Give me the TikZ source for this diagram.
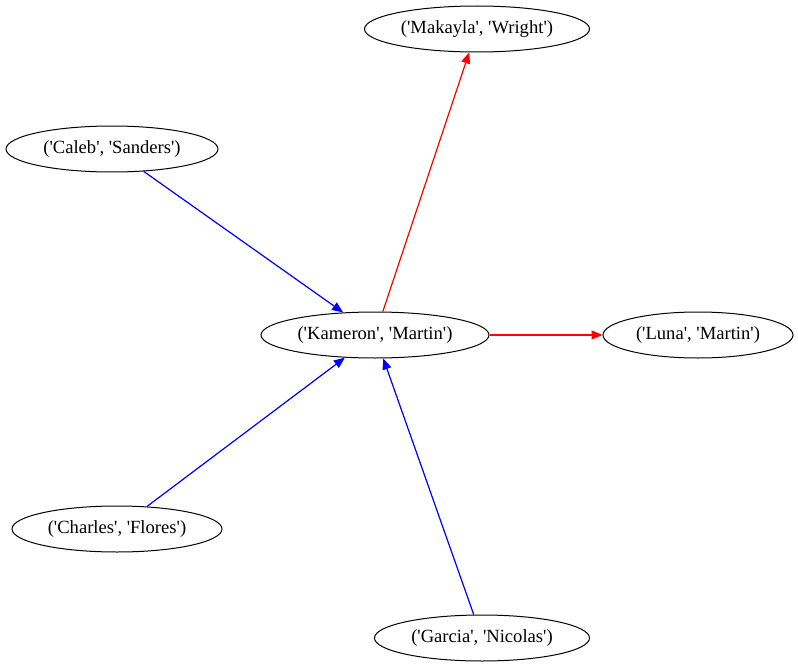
\documentclass[tikz,border=0pt]{standalone}
\usepackage{fontspec}
\setmainfont{Liberation Serif}[Ligatures=TeXOff]
\usetikzlibrary{arrows.meta,shapes.geometric}
\begin{document}
\begin{tikzpicture}[x=1pt,y=-1pt,
  person/.style={draw,line width=1pt,ellipse,minimum width=#1,minimum height=46pt,inner sep=0pt,font=\fontsize{18.6}{21}\selectfont},
  person/.default=212pt,
  link/.style={-{Triangle[length=11pt,width=9pt]},line width=1.2pt},
  toward/.style={link,draw=red,fill=red},
  from/.style={link,draw=blue,fill=blue}]
  \useasboundingbox (0,0) rectangle (798,669);
  \node[person=225pt] (makayla) at (477,29) {('Makayla', 'Wright')};
  \node[person=212pt] (caleb) at (112,149) {('Caleb', 'Sanders')};
  \node[person=228pt] (kameron) at (375,335) {('Kameron', 'Martin')};
  \node[person=190pt] (luna) at (698,335) {('Luna', 'Martin')};
  \node[person=210pt] (charles) at (117,529) {('Charles', 'Flores')};
  \node[person=215pt] (garcia) at (482,638) {('Garcia', 'Nicolas')};
  \draw[toward] (kameron) -- (makayla);
  \draw[toward] (kameron) -- (luna);
  \draw[from] (caleb) -- (kameron);
  \draw[from] (charles) -- (kameron);
  \draw[from] (garcia) -- (kameron);
\end{tikzpicture}
\end{document}
